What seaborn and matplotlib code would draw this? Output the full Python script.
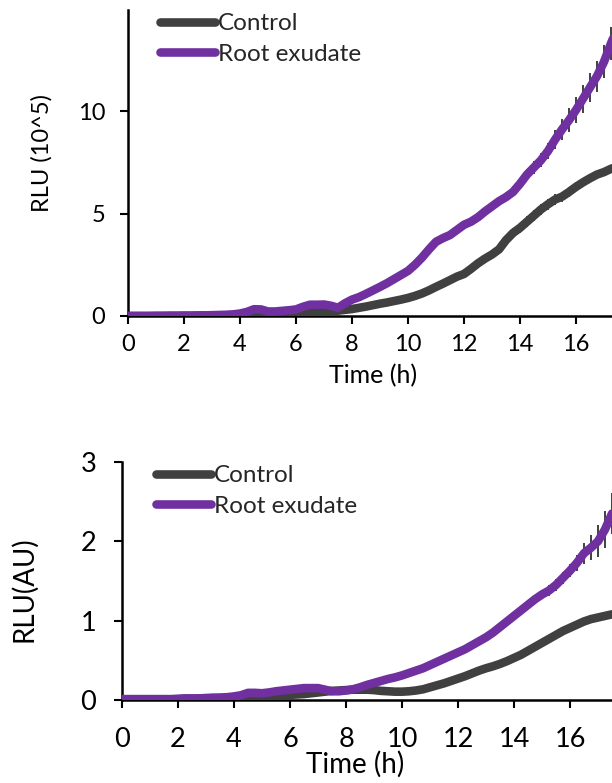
import matplotlib
matplotlib.use("Agg")
import matplotlib.pyplot as plt
from matplotlib.lines import Line2D
import seaborn as sns
import pandas as pd

# ---------------- data ----------------
time_h = [0, 0.25, 0.5, 0.75, 1, 1.25, 1.5, 1.75, 2, 2.25, 2.5, 2.75, 3, 3.25, 3.5, 3.75,
          4, 4.25, 4.5, 4.75, 5, 5.25, 5.5, 5.75, 6, 6.25, 6.5, 6.75, 7, 7.25, 7.5, 7.75,
          8, 8.25, 8.5, 8.75, 9, 9.25, 9.5, 9.75, 10, 10.25, 10.5, 10.75, 11, 11.25, 11.5, 11.75,
          12, 12.25, 12.5, 12.75, 13, 13.25, 13.5, 13.75, 14, 14.25, 14.5, 14.75,
          15, 15.25, 15.5, 15.75, 16, 16.25, 16.5, 16.75, 17, 17.25, 17.5]

series_names = ["Control", "Root exudate"]

# top panel, RLU (10^5)
top_control = [0, 0, 0, 0, 0, 0, 0.01, 0.01, 0.01, 0.01, 0.01, 0.02, 0.02, 0.03, 0.03, 0.04,
               0.06, 0.10, 0.16, 0.14, 0.08, 0.06, 0.06, 0.08, 0.12, 0.16, 0.18, 0.18, 0.20, 0.22, 0.26, 0.30,
               0.34, 0.40, 0.46, 0.53, 0.60, 0.66, 0.73, 0.80, 0.88, 0.98, 1.10, 1.25, 1.42, 1.58, 1.75, 1.92,
               2.05, 2.30, 2.57, 2.80, 3.00, 3.25, 3.70, 4.05, 4.30, 4.60, 4.90, 5.20,
               5.45, 5.68, 5.82, 6.05, 6.30, 6.52, 6.72, 6.90, 7.02, 7.18, 7.30]
top_control_err = [0.0] * 16 + [0.01] * 16 + [
               0.03, 0.03, 0.04, 0.04, 0.04, 0.05, 0.05, 0.05, 0.06, 0.06, 0.07, 0.07, 0.08, 0.08, 0.09, 0.09,
               0.12, 0.14, 0.16, 0.18, 0.20, 0.22, 0.24, 0.25, 0.26, 0.27, 0.27, 0.27,
               0.27, 0.26, 0.25, 0.24, 0.22, 0.20, 0.18, 0.17, 0.16, 0.15, 0.15]
top_root = [0, 0, 0, 0, 0.01, 0.01, 0.01, 0.01, 0.02, 0.02, 0.03, 0.03, 0.04, 0.05, 0.06, 0.08,
            0.12, 0.20, 0.33, 0.32, 0.22, 0.22, 0.25, 0.28, 0.32, 0.45, 0.55, 0.55, 0.56, 0.50, 0.40, 0.62,
            0.80, 0.92, 1.08, 1.25, 1.42, 1.60, 1.80, 2.00, 2.20, 2.50, 2.85, 3.25, 3.62, 3.80, 3.95, 4.20,
            4.45, 4.60, 4.82, 5.10, 5.35, 5.60, 5.80, 6.05, 6.45, 6.90, 7.25, 7.60,
            8.05, 8.60, 9.10, 9.55, 10.05, 10.60, 11.15, 11.70, 12.40, 13.30, 14.10]
top_root_err = [0.0] * 16 + [0.02] * 16 + [
            0.04, 0.04, 0.05, 0.05, 0.06, 0.06, 0.07, 0.07, 0.08, 0.08, 0.09, 0.09, 0.10, 0.10, 0.11, 0.11,
            0.12, 0.13, 0.14, 0.15, 0.16, 0.18, 0.20, 0.22, 0.24, 0.26, 0.30, 0.35,
            0.40, 0.46, 0.52, 0.58, 0.64, 0.68, 0.72, 0.76, 0.80, 0.82, 0.84]

# bottom panel, RLU (AU)
bot_control = [0.01, 0.01, 0.01, 0.01, 0.01, 0.01, 0.01, 0.01, 0.01, 0.015, 0.015, 0.02, 0.02, 0.02, 0.025, 0.03,
               0.035, 0.04, 0.05, 0.05, 0.05, 0.05, 0.055, 0.06, 0.065, 0.07, 0.075, 0.085, 0.095, 0.105, 0.115, 0.12,
               0.125, 0.13, 0.13, 0.13, 0.125, 0.115, 0.11, 0.105, 0.105, 0.11, 0.12, 0.135, 0.16, 0.185, 0.21, 0.24,
               0.27, 0.30, 0.335, 0.37, 0.40, 0.425, 0.455, 0.49, 0.53, 0.57, 0.62, 0.67,
               0.72, 0.77, 0.82, 0.87, 0.91, 0.95, 0.99, 1.02, 1.04, 1.06, 1.08]
bot_control_err = [0.0] * 16 + [0.005] * 16 + [0.01] * 16 + [0.015] * 16 + [0.025] * 7
bot_root = [0.01, 0.01, 0.01, 0.01, 0.01, 0.01, 0.01, 0.01, 0.015, 0.02, 0.02, 0.02, 0.025, 0.03, 0.03, 0.035,
            0.045, 0.06, 0.09, 0.09, 0.085, 0.095, 0.11, 0.12, 0.13, 0.14, 0.15, 0.15, 0.15, 0.13, 0.11, 0.11,
            0.12, 0.135, 0.16, 0.19, 0.215, 0.24, 0.265, 0.285, 0.31, 0.34, 0.37, 0.40, 0.44, 0.48, 0.52, 0.56,
            0.60, 0.64, 0.69, 0.74, 0.79, 0.85, 0.92, 0.99, 1.06, 1.13, 1.20, 1.27,
            1.33, 1.38, 1.45, 1.54, 1.63, 1.73, 1.85, 1.92, 2.00, 2.15, 2.35]
bot_root_err = [0.0] * 16 + [0.005] * 16 + [0.008] * 8 + [
            0.01, 0.01, 0.012, 0.012, 0.014, 0.014, 0.016, 0.016,
            0.018, 0.02, 0.022, 0.024, 0.026, 0.028, 0.03, 0.035, 0.04, 0.045, 0.05, 0.055,
            0.06, 0.065, 0.07, 0.075, 0.085, 0.10, 0.13, 0.16, 0.20, 0.23, 0.26]

x_ticks = [0, 2, 4, 6, 8, 10, 12, 14, 16]
top_yticks = [0, 5, 10]
bot_yticks = [0, 1, 2, 3]

colors = {"Control": "#404040", "Root exudate": "#7030A0"}

# ---------------- style ----------------
sns.set_style("white")
plt.rcParams["font.family"] = ["Lato", "DejaVu Sans"]

fig = plt.figure(figsize=(6.12, 7.83), dpi=100)
W, H = 612, 783


def frame(l, t, r, b):
    return [l / W, 1 - b / H, (r - l) / W, (b - t) / H]


def long_df(c, r):
    return pd.DataFrame({
        "time": time_h + time_h,
        "value": c + r,
        "group": [series_names[0]] * len(time_h) + [series_names[1]] * len(time_h),
    })


def draw(ax, c, ce, r, re_, xlim, ylim, yticks, tick_fs, xlabel_fs, ylabel_fs, ylabel,
         xlab_pos, ylab_pos, leg_anchor, leg_fs, xpad, ypad):
    for vals, errs in ((c, ce), (r, re_)):
        ax.errorbar(time_h, vals, yerr=errs, fmt="none", ecolor="#404040",
                    elinewidth=1.4, capsize=0, zorder=1, clip_on=True)
    sns.lineplot(data=long_df(c, r), x="time", y="value", hue="group",
                 palette=colors, hue_order=series_names, linewidth=6.2,
                 ax=ax, legend=False, zorder=3)
    for ln in ax.get_lines():
        ln.set_solid_capstyle("round")
        ln.set_solid_joinstyle("round")
    ax.set_xlim(*xlim)
    ax.set_ylim(*ylim)
    ax.set_xticks(x_ticks)
    ax.set_yticks(yticks)
    ax.tick_params(axis="both", direction="out", length=5.5, width=1.5,
                   color="black", labelsize=tick_fs, labelcolor="black",
                   left=True, bottom=True)
    ax.tick_params(axis="x", pad=xpad)
    ax.tick_params(axis="y", pad=ypad)
    for s in ("top", "right"):
        ax.spines[s].set_visible(False)
    for s in ("left", "bottom"):
        ax.spines[s].set_color("black")
        ax.spines[s].set_linewidth(1.8)
    ax.set_xlabel("Time (h)", fontsize=xlabel_fs, color="black")
    ax.set_ylabel(ylabel, fontsize=ylabel_fs, color="black")
    ax.xaxis.set_label_coords(*xlab_pos)
    ax.xaxis.label.set_va("center")
    ax.yaxis.set_label_coords(*ylab_pos)
    ax.yaxis.label.set_va("center")
    handles = [Line2D([0], [0], color=colors[n], lw=6.2, solid_capstyle="round")
               for n in series_names]
    ax.legend(handles, series_names, loc="upper left",
              bbox_to_anchor=leg_anchor, bbox_transform=fig.transFigure,
              frameon=False, fontsize=leg_fs, handlelength=2.25,
              handletextpad=0.12, labelspacing=0.4, borderaxespad=0,
              borderpad=0)


# top panel
ax1 = fig.add_axes(frame(128, 10, 612, 316))
draw(ax1, top_control, top_control_err, top_root, top_root_err,
     (0, 484 / 28), (0, 306 / 20.5), top_yticks, 17, 18, 17, "RLU (10^5)",
     ((373 - 128) / 484, (316 - 376) / 306), ((42 - 128) / 484, (316 - 153) / 306),
     (160 / W, 1 - 13 / H), 17.5, 7.5, 11)

# bottom panel
ax2 = fig.add_axes(frame(122, 462, 612, 700))
draw(ax2, bot_control, bot_control_err, bot_root, bot_root_err,
     (0, 490 / 28), (0, 3), bot_yticks, 19.5, 20, 20, "RLU(AU)",
     ((355 - 122) / 490, (700 - 764) / 238), ((24 - 122) / 490, (700 - 589) / 238),
     (156 / W, 1 - 465 / H), 17.5, 14, 13)

fig.savefig("out.png", dpi=100)
